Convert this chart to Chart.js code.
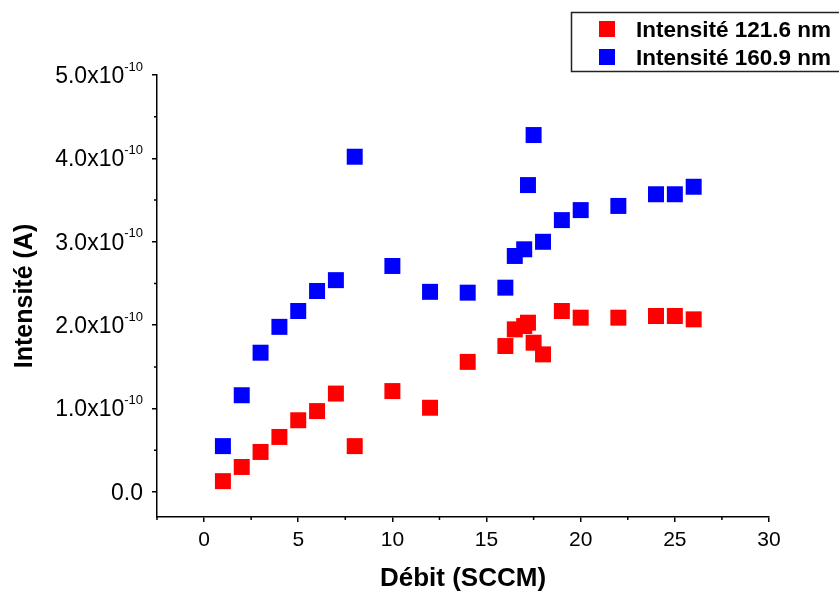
<!DOCTYPE html>
<html>
<head>
<meta charset="utf-8">
<title>Intensité vs Débit</title>
<script src="https://cdn.jsdelivr.net/npm/chart.js@4.4.0/dist/chart.umd.min.js"></script>
<style>
    body { margin: 0; background: #fff; }
    #wrap { width: 839px; height: 594px; }
</style>
</head>
<body>
<div id="wrap"><canvas id="chart" width="839" height="594"></canvas></div>
<script>
var FONT = "'Liberation Sans', Arial, Helvetica, sans-serif";

/* debit values (SCCM), same for both series */
var debit = [1, 2, 3, 4, 5, 6, 7, 8, 10, 12, 14, 16, 16.5, 17, 17.2, 17.5, 18, 19, 20, 22, 24, 25, 26];
/* intensities, in units of 1e-10 A */
var intensite1216 = [0.13, 0.30, 0.48, 0.66, 0.86, 0.97, 1.18, 0.55, 1.21, 1.01, 1.56, 1.75, 1.95, 1.99, 2.03, 1.79, 1.65, 2.17, 2.09, 2.09, 2.11, 2.11, 2.07];
var intensite1609 = [0.55, 1.16, 1.67, 1.98, 2.17, 2.41, 2.54, 4.02, 2.71, 2.40, 2.39, 2.45, 2.83, 2.91, 3.68, 4.28, 3.00, 3.26, 3.38, 3.43, 3.57, 3.57, 3.66];
var seriesLabels = ["Intensité 121.6 nm", "Intensité 160.9 nm"];
var seriesColors = ["#ff0000", "#0000ff"];

var xTicks = [0, 5, 10, 15, 20, 25, 30];
var xMinorTicks = [-2.5, 2.5, 7.5, 12.5, 17.5, 22.5, 27.5];
var yTicks = [0, 1, 2, 3, 4, 5];
var yMinorTicks = [0.5, 1.5, 2.5, 3.5, 4.5];
var yExponent = "-10";

function toPoints(xs, ys) {
    var pts = [];
    for (var i = 0; i < xs.length; i++) {
        pts.push({x: xs[i], y: ys[i]});
    }
    return pts;
}

/* minor ticks, y tick labels with superscript, boxed legend */
var decorPlugin = {
    id: "decor",
    afterDraw: function(chart) {
        var ctx = chart.ctx;
        var xs = chart.scales.x, ys = chart.scales.y;
        var area = chart.chartArea;
        ctx.save();
        ctx.strokeStyle = "#000";
        ctx.lineWidth = 1.5;
        ctx.beginPath();
        xMinorTicks.forEach(function(v) {
            var px = xs.getPixelForValue(v);
            ctx.moveTo(px, area.bottom);
            ctx.lineTo(px, area.bottom + 3);
        });
        yMinorTicks.forEach(function(v) {
            var py = ys.getPixelForValue(v);
            ctx.moveTo(area.left, py);
            ctx.lineTo(area.left - 3, py);
        });
        ctx.stroke();

        // y labels: mantissa x10 with exponent
        ctx.fillStyle = "#000";
        ctx.textBaseline = "middle";
        ctx.textAlign = "right";
        var right = area.left - 14;
        yTicks.forEach(function(v) {
            var py = ys.getPixelForValue(v);
            if (v === 0) {
                ctx.font = "23px " + FONT;
                ctx.fillText("0.0", right, py + 1.5);
                return;
            }
            ctx.font = "13px " + FONT;
            var ew = ctx.measureText(yExponent).width;
            ctx.fillText(yExponent, right, py - 8);
            ctx.font = "23px " + FONT;
            ctx.fillText(v.toFixed(1) + "x10", right - ew, py + 1.5);
        });

        // legend box
        ctx.lineWidth = 1.5;
        ctx.strokeStyle = "#222";
        ctx.strokeRect(571.5, 12.5, 290, 59);
        ctx.font = "bold 22.5px " + FONT;
        ctx.textAlign = "left";
        chart.data.datasets.forEach(function(ds, i) {
            var cy = 29 + i * 28;
            ctx.fillStyle = ds.backgroundColor;
            ctx.fillRect(599, cy - 8, 16, 16);
            ctx.fillStyle = "#000";
            ctx.fillText(ds.label, 636, cy + 1.5);
        });
        ctx.restore();
    }
};

function drawChart() {
    var ctx = document.getElementById("chart").getContext("2d");
    var datasets = [
        {
            label: seriesLabels[0],
            data: toPoints(debit, intensite1216),
            backgroundColor: seriesColors[0]
        },
        {
            label: seriesLabels[1],
            data: toPoints(debit, intensite1609),
            backgroundColor: seriesColors[1]
        }
    ];
    datasets.forEach(function(ds) {
        ds.pointStyle = "rect";
        ds.pointRadius = 11.3;
        ds.pointHoverRadius = 11.3;
        ds.borderWidth = 0;
        ds.borderColor = ds.backgroundColor;
    });

    var options = {
        responsive: false,
        animation: false,
        layout: {padding: {left: 0, top: 75, right: 70, bottom: 0}},
        plugins: {
            legend: {display: false},
            tooltip: {enabled: false}
        },
        scales: {
            x: {
                type: "linear",
                min: -2.5,
                max: 30,
                afterBuildTicks: function(scale) {
                    scale.ticks = xTicks.map(function(v) { return {value: v}; });
                },
                afterFit: function(scale) { scale.height = 77; },
                border: {display: true, color: "#000", width: 1.5},
                grid: {drawOnChartArea: false, drawTicks: true, tickLength: 5, color: "#000", lineWidth: 1.5},
                ticks: {
                    color: "#000",
                    font: {family: FONT, size: 21},
                    padding: 6,
                    maxRotation: 0
                },
                title: {
                    display: true,
                    text: "Débit (SCCM)",
                    color: "#000",
                    font: {family: FONT, size: 26, weight: "bold"},
                    padding: {top: 0, bottom: 0}
                }
            },
            y: {
                type: "linear",
                min: -0.3,
                max: 5,
                afterBuildTicks: function(scale) {
                    scale.ticks = yTicks.map(function(v) { return {value: v}; });
                },
                afterFit: function(scale) { scale.width = 157; },
                border: {display: true, color: "#000", width: 1.5},
                grid: {drawOnChartArea: false, drawTicks: true, tickLength: 5, color: "#000", lineWidth: 1.5},
                ticks: {display: false},
                title: {
                    display: true,
                    text: "Intensité (A)",
                    color: "#000",
                    font: {family: FONT, size: 25, weight: "bold"},
                    padding: {top: 10, bottom: 0}
                }
            }
        }
    };

    new Chart(ctx, {
        type: "scatter",
        data: {datasets: datasets},
        options: options,
        plugins: [decorPlugin]
    });
}

drawChart();
</script>
</body>
</html>
